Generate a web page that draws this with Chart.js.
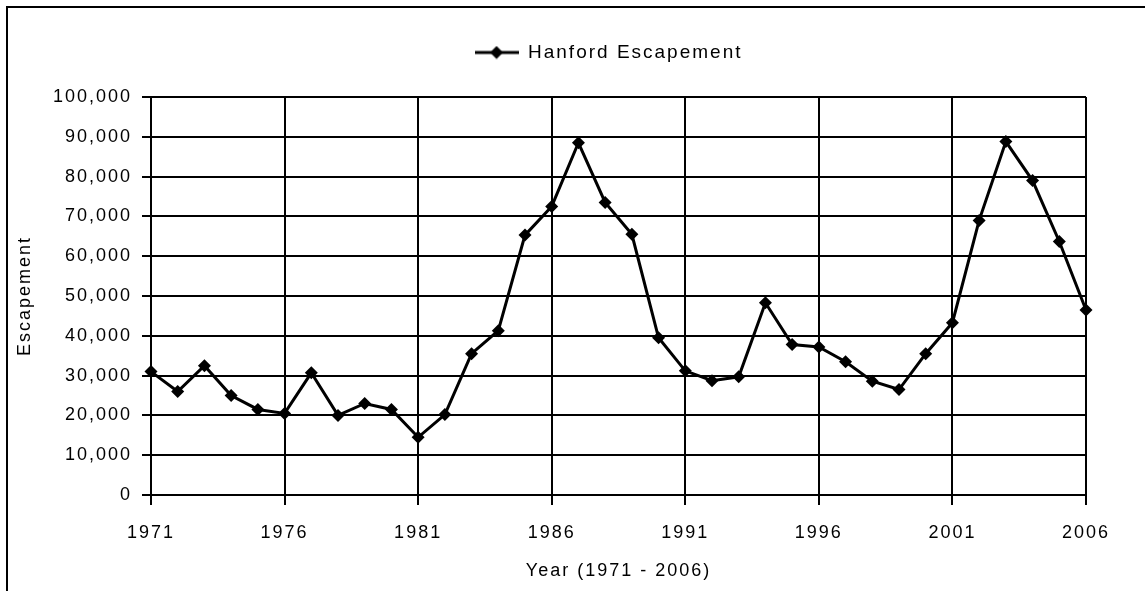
<!DOCTYPE html>
<html><head><meta charset="utf-8">
<script src="https://cdn.jsdelivr.net/npm/chart.js@4"></script>
<style>
html,body{margin:0;padding:0;background:#fff;overflow:hidden;width:1145px;height:591px;}
#frame{position:absolute;left:6px;top:6px;width:1200px;height:700px;border:2px solid #000;box-sizing:border-box;}
#wrap{position:absolute;left:0;top:0;width:1145px;height:591px;}
</style></head><body>
<div id="frame"></div>
<div id="wrap"><canvas id="c"></canvas></div>
<script>
const years = [1971,1972,1973,1974,1975,1976,1977,1978,1979,1980,
               1981,1982,1983,1984,1985,1986,1987,1988,1989,1990,
               1991,1992,1993,1994,1995,1996,1997,1998,1999,2000,
               2001,2002,2003,2004,2005,2006];
const escapement = [31000,26000,32500,25000,21500,20500,30700,20000,23000,21500,
                    14500,20200,35500,41300,65300,72500,88500,73500,65500,39500,
                    31200,28700,29700,48300,37800,37200,33500,28600,26500,35500,
                    43300,69000,88800,79000,63700,46500];
const xTickValues = [1971,1976,1981,1986,1991,1996,2001,2006];
const yTickValues = [0,10000,20000,30000,40000,50000,60000,70000,80000,90000,100000];
const seriesLabel = 'Hanford Escapement';
const xTitle = 'Year (1971 - 2006)';
const yTitle = 'Escapement';

const FONT = 'Liberation Sans, Arial, sans-serif';

// legend icon: line with diamond
const icon = document.createElement('canvas');
icon.width = 44; icon.height = 14;
(function(){
  const g = icon.getContext('2d');
  g.strokeStyle = '#000'; g.lineWidth = 3;
  g.beginPath(); g.moveTo(0,7); g.lineTo(44,7); g.stroke();
  g.fillStyle = '#000';
  g.beginPath(); g.moveTo(22,0.5); g.lineTo(28.5,7); g.lineTo(22,13.5); g.lineTo(15.5,7); g.closePath(); g.fill();
})();

const spacingPlugin = {
  id: 'spacing',
  beforeUpdate(c){ c.ctx.letterSpacing = '2px'; },
  beforeLayout(c){ c.ctx.letterSpacing = '2px'; },
  beforeDraw(c){ c.ctx.letterSpacing = '2px'; },
  afterInit(c){
    const lg = c.legend;
    if (lg && !lg._patched) {
      const orig = lg.fit;
      lg.fit = function(){ orig.call(this); this.height = 97; };
      lg._patched = true;
    }
  },
  afterLayout(c){
    if (c.legend) { c.legend.left -= 10; c.legend.right -= 10; }
  }
};

new Chart(document.getElementById('c'), {
  type: 'line',
  data: {
    datasets: [{
      label: seriesLabel,
      data: years.map((y, i) => ({x: y, y: escapement[i]})),
      borderColor: '#000',
      backgroundColor: '#000',
      borderWidth: 3,
      pointStyle: 'rectRot',
      pointRadius: 6.5,
      pointBackgroundColor: '#000',
      pointBorderColor: '#000',
      pointBorderWidth: 0,
      tension: 0,
      fill: false,
      clip: false
    }]
  },
  options: {
    responsive: true,
    maintainAspectRatio: false,
    animation: false,
    events: [],
    layout: { padding: { left: 8, right: 59, top: 0, bottom: 0 } },
    plugins: {
      tooltip: { enabled: false },
      legend: {
        display: true,
        position: 'top',
        fullSize: false,
        labels: {
          usePointStyle: true,
          pointStyleWidth: 44,
          padding: 43,
          color: '#000',
          font: { family: FONT, size: 19 },
          generateLabels: () => [{
            text: seriesLabel, pointStyle: icon, fillStyle: '#000',
            strokeStyle: '#000', lineWidth: 0, hidden: false, datasetIndex: 0
          }]
        }
      }
    },
    scales: {
      x: {
        type: 'linear',
        min: xTickValues[0],
        max: xTickValues[xTickValues.length - 1],
        afterBuildTicks: s => { s.ticks = xTickValues.map(v => ({value: v})); },
        afterFit: s => { s.height = 96; },
        ticks: {
          color: '#000', padding: 17, maxRotation: 0, autoSkip: false,
          font: { family: FONT, size: 18 },
          callback: v => String(v)
        },
        grid: { color: '#000', lineWidth: 2, tickLength: 10, drawTicks: true },
        border: { display: true, color: '#000', width: 2 },
        title: {
          display: true, text: xTitle, color: '#000',
          font: { family: FONT, size: 18 },
          padding: { top: 0, bottom: 9 }
        }
      },
      y: {
        type: 'linear',
        min: yTickValues[0],
        max: yTickValues[yTickValues.length - 1],
        afterBuildTicks: s => { s.ticks = yTickValues.map(v => ({value: v})); },
        afterFit: s => { s.width = 143; },
        ticks: {
          color: '#000', padding: 10,
          font: { family: FONT, size: 18 },
          callback: v => v.toLocaleString('en-US')
        },
        grid: { color: '#000', lineWidth: 2, tickLength: 9, drawTicks: true },
        border: { display: true, color: '#000', width: 2 },
        title: {
          display: true, text: yTitle, color: '#000',
          font: { family: FONT, size: 18 },
          padding: { top: 6, bottom: 6 }
        }
      }
    }
  },
  plugins: [spacingPlugin]
});
</script>
</body></html>
